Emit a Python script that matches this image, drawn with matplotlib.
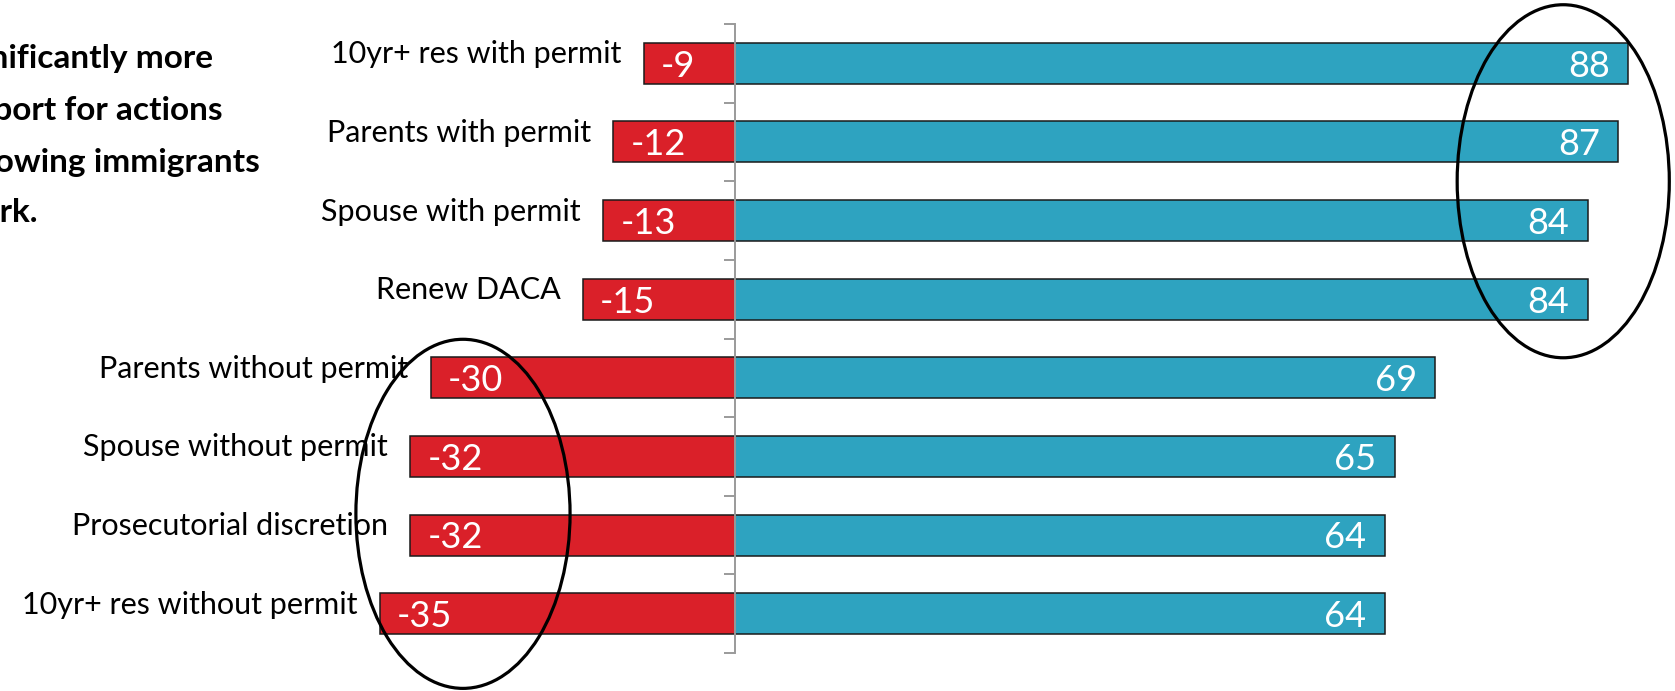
import numpy as np
import matplotlib
matplotlib.use("Agg")
import matplotlib.pyplot as plt
from matplotlib.patches import Ellipse

categories = ["10yr+ res with permit", "Parents with permit", "Spouse with permit",
              "Renew DACA", "Parents without permit", "Spouse without permit",
              "Prosecutorial discretion", "10yr+ res without permit"]
oppose = [-9, -12, -13, -15, -30, -32, -32, -35]
support = [88, 87, 84, 84, 69, 65, 64, 64]
title_lines = ["Significantly more", "support for actions", "allowing immigrants", "to work."]

RED = "#DA2029"
BLUE = "#2EA3C0"
FONT = "Lato"

W, H = 1675, 691
fig = plt.figure(figsize=(W / 100, H / 100), dpi=100)
# axes: x=0 at px 735, 10.15 px/unit; y from px 24 to 653
xmin, xmax = -40, 92
ppu = 10.15
left_px = 735 + xmin * ppu
width_px = (xmax - xmin) * ppu
ax = fig.add_axes([left_px / W, (H - 653) / H, width_px / W, (653 - 24) / H])

y = np.arange(len(categories))
ax.barh(y, support, height=0.52, color=BLUE, edgecolor="#1a1a1a", linewidth=1.1)
ax.barh(y, oppose, height=0.52, color=RED, edgecolor="#1a1a1a", linewidth=1.1)

ax.set_xlim(xmin, xmax)
ax.set_ylim(len(categories) - 0.5, -0.5)

for s in ["top", "right", "bottom"]:
    ax.spines[s].set_visible(False)
ax.spines["left"].set_position(("data", 0))
ax.spines["left"].set_color("#9a9a9a")
ax.spines["left"].set_linewidth(1.4)
ax.spines["left"].set_zorder(3)
ax.set_xticks([])
ax.set_yticks(np.arange(-0.5, len(categories), 1.0))
ax.set_yticklabels([])
ax.tick_params(axis="y", direction="out", length=8, width=1.4, color="#9a9a9a")

for i, (cat, o, s) in enumerate(zip(categories, oppose, support)):
    ax.text(o - 2.2, i + 0.0, cat, ha="right", va="baseline", fontsize=22,
            family=FONT, color="black")
    ax.text(s - 1.8, i + 0.17, f"{s}", ha="right", va="baseline", fontsize=26,
            family=FONT, color="white")
    ax.text(o + 1.7, i + 0.17, f"{o}", ha="left", va="baseline", fontsize=26,
            family=FONT, color="white")

ax.add_patch(Ellipse((81.6, 1.50), 20.9, 4.49, fill=False, edgecolor="black",
                     linewidth=2.3, clip_on=False, zorder=5))
ax.add_patch(Ellipse((-26.8, 5.73), 21.1, 4.44, fill=False, edgecolor="black",
                     linewidth=2.3, clip_on=False, zorder=5))

right_edges = [213, 223, 260, 38]
baselines = [68, 120, 172, 222]
for line, rx, by in zip(title_lines, right_edges, baselines):
    fig.text(rx / W, 1 - by / H, line, ha="right", va="baseline", fontsize=24,
             fontweight="bold", family=FONT, color="black")

fig.savefig("out.png", dpi=100)
